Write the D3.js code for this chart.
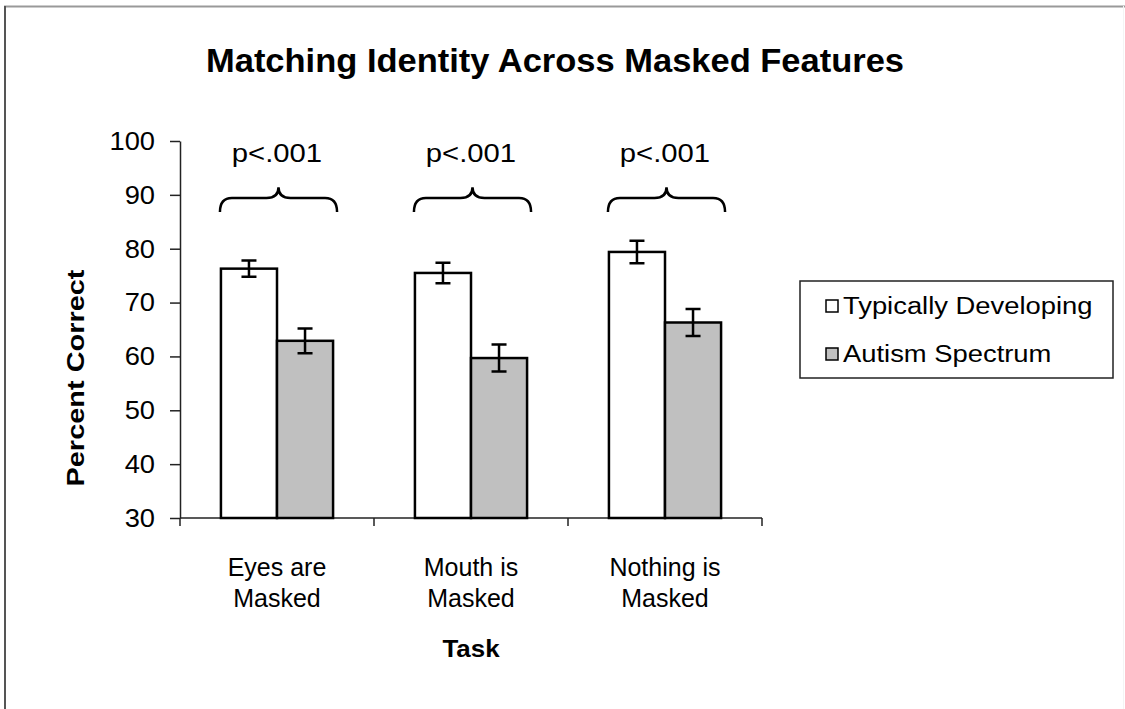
<!DOCTYPE html>
<html>
<head>
<meta charset="utf-8">
<script src="https://cdn.jsdelivr.net/npm/d3@7"></script>
<style>
    body { margin: 0; background: #fff; }
    svg text { font-family: "Liberation Sans", Arial, sans-serif; fill: #000; }
</style>
</head>
<body>
<div id="chart"></div>
<script>

// chart data
var categories = [["Eyes are", "Masked"], ["Mouth is", "Masked"], ["Nothing is", "Masked"]];
var seriesNames = ["Typically Developing", "Autism Spectrum"];
var typicalValues = [76.3, 75.5, 79.4];
var typicalErrors = [1.5, 1.9, 2.1];
var autismValues = [62.9, 59.7, 66.3];
var autismErrors = [2.3, 2.5, 2.5];
var pLabels = ["p<.001", "p<.001", "p<.001"];
var yTicks = [30, 40, 50, 60, 70, 80, 90, 100];

var seriesColours = ["#ffffff", "#c0c0c0"];

var width = 1125;
var height = 709;

//the source picture has its text stretched sideways a bit, so widen it to suit
var stretch = function(selection, factor) {
    selection.each(function() {
        var len = this.getComputedTextLength();
        d3.select(this)
            .attr("textLength", len * factor)
            .attr("lengthAdjust", "spacingAndGlyphs");
    });
};

var svg = d3.select("#chart")
    .append("svg:svg")
    .attr("width", width)
    .attr("height", height);

//outer frame of the pasted chart (top and left edges show, right is faint)
svg.append("svg:line")
    .attr("x1", 4).attr("x2", width).attr("y1", 6.5).attr("y2", 6.5)
    .style("stroke", "#999").style("stroke-width", 2);
svg.append("svg:line")
    .attr("x1", 5).attr("x2", 5).attr("y1", 6).attr("y2", height)
    .style("stroke", "#555").style("stroke-width", 2);
svg.append("svg:line")
    .attr("x1", 1123.5).attr("x2", 1123.5).attr("y1", 6).attr("y2", height)
    .style("stroke", "#f4f4f4").style("stroke-width", 1);

var plot = { left: 180, right: 762, top: 141, bottom: 518 };

var yScale = d3.scaleLinear()
    .domain([30, 100])
    .range([plot.bottom, plot.top]);

var catKeys = categories.map(function(c) { return c.join(" "); });

var x0 = d3.scaleBand()
    .domain(catKeys)
    .range([plot.left, plot.right])
    .paddingInner(0)
    .paddingOuter(0);

var x1 = d3.scaleBand()
    .domain(seriesNames)
    .range([0, x0.bandwidth()])
    .paddingInner(0)
    .paddingOuter(0.73);

var rows = catKeys.map(function(key, i) {
    return {
        key: key,
        values: [
            { name: seriesNames[0], value: typicalValues[i], err: typicalErrors[i], colour: seriesColours[0] },
            { name: seriesNames[1], value: autismValues[i], err: autismErrors[i], colour: seriesColours[1] }
        ]
    };
});

// title
svg.append("svg:text")
    .attr("x", 555)
    .attr("y", 72)
    .attr("text-anchor", "middle")
    .attr("textLength", 698)
    .attr("lengthAdjust", "spacingAndGlyphs")
    .style("font-size", "33px")
    .style("font-weight", "bold")
    .text("Matching Identity Across Masked Features");

// y axis
var yAxis = d3.axisLeft(yScale)
    .tickValues(yTicks)
    .tickSize(10)
    .tickPadding(15)
    .tickSizeOuter(0);

var yAxisG = svg.append("svg:g")
    .attr("transform", "translate(" + plot.left + ",0)")
    .call(yAxis);
yAxisG.selectAll("text").style("font-size", "26px").call(stretch, 1.05);
yAxisG.selectAll("line, path").style("stroke", "#222").style("stroke-width", 1.5);

// x axis: ticks on the category boundaries
var xBoundaries = catKeys.map(function(k) { return x0(k); }).concat([plot.right]);

var xAxisG = svg.append("svg:g").attr("class", "x-axis");
xAxisG.append("svg:line")
    .attr("x1", plot.left).attr("x2", plot.right)
    .attr("y1", yScale(30)).attr("y2", yScale(30))
    .style("stroke", "#222").style("stroke-width", 1.5);
xAxisG.selectAll(".x-tick")
    .data(xBoundaries)
    .enter()
    .append("svg:line")
    .attr("class", "x-tick")
    .attr("x1", function(d) { return d; })
    .attr("x2", function(d) { return d; })
    .attr("y1", yScale(30))
    .attr("y2", yScale(30) + 8)
    .style("stroke", "#222").style("stroke-width", 1.5);

// category labels, two lines each
var catLabels = svg.selectAll(".cat-label")
    .data(categories)
    .enter()
    .append("svg:text")
    .attr("class", "cat-label")
    .attr("text-anchor", "middle")
    .style("font-size", "25px");
catLabels.selectAll("tspan")
    .data(function(d, i) { return d.map(function(line) { return { line: line, key: catKeys[i] }; }); })
    .enter()
    .append("svg:tspan")
    .attr("x", function(d) { return x0(d.key) + x0.bandwidth() / 2; })
    .attr("y", function(d, j) { return 576 + j * 31; })
    .text(function(d) { return d.line; });

// axis titles
svg.append("svg:text")
    .attr("x", (plot.left + plot.right) / 2)
    .attr("y", 657)
    .attr("text-anchor", "middle")
    .style("font-size", "24px")
    .style("font-weight", "bold")
    .call(function(s) { s.text("Task"); })
    .call(stretch, 1.08);

svg.append("svg:text")
    .attr("transform", "translate(84,378) rotate(-90)")
    .attr("text-anchor", "middle")
    .attr("textLength", 217)
    .attr("lengthAdjust", "spacingAndGlyphs")
    .style("font-size", "24px")
    .style("font-weight", "bold")
    .text("Percent Correct");

// bars
var groups = svg.selectAll(".bar-group")
    .data(rows)
    .enter()
    .append("svg:g")
    .attr("class", "bar-group")
    .attr("transform", function(d) { return "translate(" + x0(d.key) + ",0)"; });

groups.selectAll(".bar")
    .data(function(d) { return d.values; })
    .enter()
    .append("svg:rect")
    .attr("class", "bar")
    .attr("x", function(d) { return x1(d.name); })
    .attr("width", x1.bandwidth())
    .attr("y", function(d) { return yScale(d.value); })
    .attr("height", function(d) { return yScale(30) - yScale(d.value); })
    .style("fill", function(d) { return d.colour; })
    .style("stroke", "#000")
    .style("stroke-width", 2.5);

// error bars
var capHalf = 7.5;
groups.selectAll(".err")
    .data(function(d) { return d.values; })
    .enter()
    .append("svg:path")
    .attr("class", "err")
    .attr("d", function(d) {
        var cx = x1(d.name) + x1.bandwidth() / 2;
        var top = yScale(d.value + d.err);
        var bot = yScale(d.value - d.err);
        return "M" + (cx - capHalf) + "," + top + "H" + (cx + capHalf) +
            "M" + cx + "," + top + "V" + bot +
            "M" + (cx - capHalf) + "," + bot + "H" + (cx + capHalf);
    })
    .style("fill", "none")
    .style("stroke", "#000")
    .style("stroke-width", 2.5);

// significance braces over each pair
var braceEnd = yScale(86.8);
var braceMid = yScale(89.4);
var braceTip = yScale(91.4);
var braceR = 12;

groups.append("svg:path")
    .attr("class", "brace")
    .attr("d", function() {
        var left = x1(seriesNames[0]) - 1;
        var right = x1(seriesNames[1]) + x1.bandwidth() + 4;
        var cx = (left + right) / 2;
        return "M" + left + "," + braceEnd +
            "Q" + left + "," + braceMid + " " + (left + braceR) + "," + braceMid +
            "H" + (cx - braceR) +
            "Q" + cx + "," + braceMid + " " + cx + "," + braceTip +
            "Q" + cx + "," + braceMid + " " + (cx + braceR) + "," + braceMid +
            "H" + (right - braceR) +
            "Q" + right + "," + braceMid + " " + right + "," + braceEnd;
    })
    .style("fill", "none")
    .style("stroke", "#000")
    .style("stroke-width", 2.5);

groups.append("svg:text")
    .attr("x", function() { return (x1(seriesNames[0]) + x1(seriesNames[1]) + x1.bandwidth()) / 2; })
    .attr("y", yScale(96.1))
    .attr("text-anchor", "middle")
    .style("font-size", "25px")
    .text(function(d, i) { return pLabels[i]; })
    .call(stretch, 1.17);

// legend
var legend = svg.append("svg:g")
    .attr("transform", "translate(800,281)");

legend.append("svg:rect")
    .attr("width", 313)
    .attr("height", 97)
    .style("fill", "#fff")
    .style("stroke", "#222")
    .style("stroke-width", 1.5);

var legendItems = legend.selectAll(".legend-item")
    .data(seriesNames)
    .enter()
    .append("svg:g")
    .attr("class", "legend-item")
    .attr("transform", function(d, i) { return "translate(26," + (19 + i * 48) + ")"; });

legendItems.append("svg:rect")
    .attr("width", 12)
    .attr("height", 12)
    .style("fill", function(d, i) { return seriesColours[i]; })
    .style("stroke", "#000")
    .style("stroke-width", 1.5);

legendItems.append("svg:text")
    .attr("x", 17)
    .attr("y", 14)
    .style("font-size", "23px")
    .text(function(d) { return d; })
    .call(stretch, 1.19);

</script>
</body>
</html>
